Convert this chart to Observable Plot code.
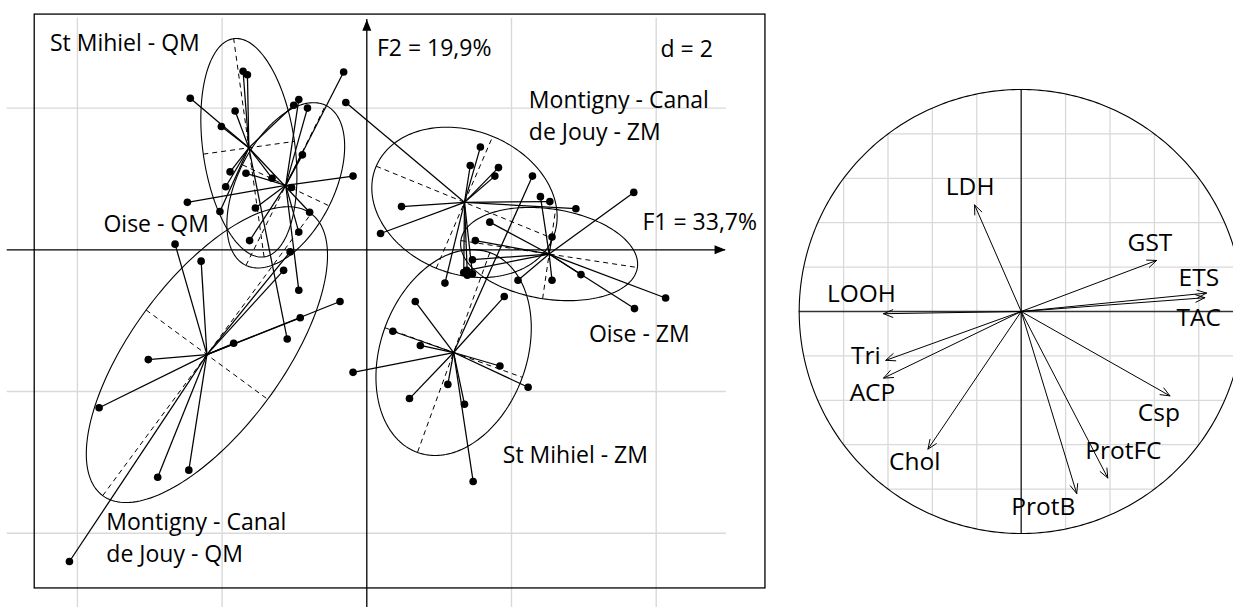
<!DOCTYPE html>
<html><head><meta charset="utf-8">
<script src="https://cdn.jsdelivr.net/npm/d3@7"></script>
<script src="https://cdn.jsdelivr.net/npm/@observablehq/plot@0.6"></script>
<style>
html,body{margin:0;padding:0;background:#fff;overflow:hidden;}
#wrap{position:relative;width:1233px;height:607px;overflow:hidden;background:#fff;}
#left{position:absolute;left:0;top:0;width:780px;height:607px;}
#right{position:absolute;left:780px;top:0;width:480px;height:607px;}
svg{overflow:visible;max-width:none !important;}
</style></head>
<body><div id="wrap"><div id="left"></div><div id="right"></div></div>
<script>
// ---------- Left panel: class scatter (F1 x F2) ----------
const groups = ["St Mihiel - QM", "Oise - QM", "Montigny - Canal de Jouy - QM",
                "Montigny - Canal de Jouy - ZM", "Oise - ZM", "St Mihiel - ZM"];
const groupLabels = ["St Mihiel - QM", "Oise - QM", "Montigny - Canal\nde Jouy - QM",
                     "Montigny - Canal\nde Jouy - ZM", "Oise - ZM", "St Mihiel - ZM"];
const labelX = [-4.38, -3.64, -3.60, 2.24, 3.07, 1.88];
const labelY = [2.95, 0.39, -4.04, 1.92, -1.15, -2.86];

const centroidX = [-1.63, -1.12, -2.21, 1.35, 2.52, 1.20];
const centroidY = [1.44, 0.91, -1.48, 0.67, -0.06, -1.45];
// ellipse half-axes (major, minor) as vectors
const axis1X = [-0.21, 0.55, 1.44, 1.22, 1.22, -0.50];
const axis1Y = [1.54, 1.13, 1.99, -0.51, -0.19, -1.41];
const axis2X = [0.63, 0.60, 0.84, 0.39, 0.09, 0.95];
const axis2Y = [0.09, -0.29, -0.63, 0.93, 0.63, -0.35];

const stMihielQM_x = [-1.71, -1.65, -2.44, -2.01, -1.82, -1.01, -1.89, -1.95, -2.03, -1.31, -1.10, -0.79];
const stMihielQM_y = [2.52, 2.47, 2.14, 1.74, 1.96, 2.04, 1.10, 0.89, 0.54, 1.01, -1.26, 0.53];
const oiseQM_x = [-0.32, -0.89, -0.94, -0.82, -0.19, -2.48, -1.67, -1.04, -1.54, -1.62, -0.94, -0.94];
const oiseQM_y = [2.51, 1.34, 2.12, 2.00, 1.04, 0.67, 1.08, 0.88, 0.59, 0.13, 0.25, -0.57];
const montignyQM_x = [-2.65, -2.29, -3.02, -3.70, -2.89, -2.46, -4.11, -1.84, -0.92, -0.37, -1.06, -1.15];
const montignyQM_y = [0.08, -0.16, -1.55, -2.23, -3.21, -3.11, -4.40, -1.32, -0.96, -0.73, -0.03, -0.29];
const montignyZM_x = [1.57, 1.43, 1.82, 1.77, 0.48, 0.19, -0.29, 2.89, 2.53, 1.46, 1.34, 1.39, 1.08];
const montignyZM_y = [1.45, 1.19, 1.16, 1.04, 0.61, 0.23, 2.08, 0.58, 0.68, -0.34, -0.32, -0.36, -0.47];
const oiseZM_x = [3.69, 2.40, 2.56, 1.70, 1.50, 1.46, 2.09, 2.56, 2.96, 3.70, 4.13, 1.38];
const oiseZM_y = [0.81, 0.75, 0.18, 0.39, 0.13, -0.14, -0.43, -0.43, -0.35, -0.83, -0.68, -0.29];
const stMihielZM_x = [0.67, 0.36, 0.74, -0.19, 0.59, 1.12, 1.35, 1.47, 1.84, 2.23, 1.90, 2.29];
const stMihielZM_y = [-0.73, -1.15, -1.35, -1.73, -2.10, -1.90, -2.18, -3.27, -1.64, -1.94, -0.66, 1.04];

const axisTexts = ["F2 = 19,9%", "d = 2", "F1 = 33,7%"];
const axisTextX = [0.14, 4.06, 3.81];
const axisTextY = [2.84, 2.83, 0.39];

const gridX = [-4, -2, 2, 4];
const gridY = [2, -2, -4];
const gridExtentX = [-4.97, 4.97];
const gridExtentY = [-5.05, 3.27];
const axisEndX = [-4.97, 4.96];
const axisEndY = [-5.05, 3.25];
const panelBoxX = [-4.59, 5.51];
const panelBoxY = [-4.78, 3.32];

// ---------- Right panel: correlation circle ----------
const variables = ["LDH", "GST", "ETS", "TAC", "LOOH", "Tri", "ACP", "Chol", "ProtB", "ProtFC", "Csp"];
const corrX = [-0.21, 0.61, 0.835, 0.827, -0.62, -0.61, -0.62, -0.42, 0.25, 0.39, 0.67];
const corrY = [0.48, 0.23, 0.083, 0.062, -0.01, -0.22, -0.30, -0.62, -0.82, -0.75, -0.38];
const varLabelX = [-0.23, 0.58, 0.80, 0.80, -0.72, -0.70, -0.67, -0.48, 0.10, 0.46, 0.62];
const varLabelY = [0.56, 0.31, 0.15, -0.03, 0.08, -0.20, -0.37, -0.68, -0.88, -0.63, -0.46];
const circleGrid = [-0.8, -0.6, -0.4, -0.2, 0.2, 0.4, 0.6, 0.8];

// ---------- build tables ----------
const px = [stMihielQM_x, oiseQM_x, montignyQM_x, montignyZM_x, oiseZM_x, stMihielZM_x];
const py = [stMihielQM_y, oiseQM_y, montignyQM_y, montignyZM_y, oiseZM_y, stMihielZM_y];
const pts = groups.flatMap((g, i) => px[i].map((x, j) => ({g, x, y: py[i][j], cx: centroidX[i], cy: centroidY[i]})));
const angles = d3.range(0, 361, 2).map(a => a * Math.PI / 180);
const ellipse = groups.flatMap((g, i) => angles.map(t => ({
  g,
  x: centroidX[i] + Math.cos(t) * axis1X[i] + Math.sin(t) * axis2X[i],
  y: centroidY[i] + Math.cos(t) * axis1Y[i] + Math.sin(t) * axis2Y[i]
})));
const ellAxes = groups.flatMap((g, i) => [
  {x1: centroidX[i] - axis1X[i], y1: centroidY[i] - axis1Y[i], x2: centroidX[i] + axis1X[i], y2: centroidY[i] + axis1Y[i]},
  {x1: centroidX[i] - axis2X[i], y1: centroidY[i] - axis2Y[i], x2: centroidX[i] + axis2X[i], y2: centroidY[i] + axis2Y[i]}
]);
const labels = groups.map((g, i) => ({t: groupLabels[i], x: labelX[i], y: labelY[i]}));
const axTxt = axisTexts.map((t, i) => ({t, x: axisTextX[i], y: axisTextY[i]}));

const triUp = {draw(ctx, size) { const r = Math.sqrt(size / Math.PI); const L = 1.85 * r, w = 0.75 * r;
  ctx.moveTo(0, 0); ctx.lineTo(-w, L); ctx.lineTo(w, L); ctx.closePath(); }};
const triRight = {draw(ctx, size) { const r = Math.sqrt(size / Math.PI); const L = 1.85 * r, w = 0.75 * r;
  ctx.moveTo(0, 0); ctx.lineTo(-L, -w); ctx.lineTo(-L, w); ctx.closePath(); }};

const font = "'Open Sans', 'DejaVu Sans', sans-serif";

const left = Plot.plot({
  width: 780, height: 607,
  marginLeft: 4.55, marginRight: 51.95, marginTop: 15.5, marginBottom: 0,
  x: {domain: [-5, 5], axis: null},
  y: {domain: [-5.049, 3.3], axis: null},
  style: {fontFamily: font, fontSize: "23px", background: "transparent", color: "black"},
  marks: [
    Plot.ruleX(gridX, {y1: gridExtentY[0], y2: gridExtentY[1], stroke: "#d9d9d9", strokeWidth: 1.4}),
    Plot.ruleY(gridY, {x1: gridExtentX[0], x2: gridExtentX[1], stroke: "#d9d9d9", strokeWidth: 1.4}),
    Plot.ruleX([0], {y1: axisEndY[0], y2: axisEndY[1], stroke: "black", strokeWidth: 1.3}),
    Plot.ruleY([0], {x1: axisEndX[0], x2: axisEndX[1], stroke: "black", strokeWidth: 1.3}),
    Plot.dot([0], {x: 0, y: axisEndY[1], symbol: triUp, r: 6, fill: "black", stroke: null}),
    Plot.dot([0], {x: axisEndX[1], y: 0, symbol: triRight, r: 6, fill: "black", stroke: null}),
    Plot.rect([0], {x1: panelBoxX[0], x2: panelBoxX[1], y1: panelBoxY[0], y2: panelBoxY[1], fill: "none", stroke: "black", strokeWidth: 1.3}),
    Plot.line(ellipse, {x: "x", y: "y", z: "g", stroke: "black", strokeWidth: 1.1, curve: "linear-closed"}),
    Plot.link(ellAxes, {x1: "x1", y1: "y1", x2: "x2", y2: "y2", stroke: "black", strokeWidth: 1, strokeDasharray: "5,4"}),
    Plot.link(pts, {x1: "cx", y1: "cy", x2: "x", y2: "y", stroke: "black", strokeWidth: 1.25}),
    Plot.dot(pts, {x: "x", y: "y", r: 3.8, fill: "black", stroke: null}),
    Plot.text(labels, {x: "x", y: "y", text: "t", textAnchor: "start", lineHeight: 1.39, fill: "black"}),
    Plot.text(axTxt, {x: "x", y: "y", text: "t", textAnchor: "start", fill: "black"})
  ]
});
document.getElementById("left").appendChild(left);

const circle = d3.range(0, 361, 1).map(a => ({x: Math.cos(a * Math.PI / 180), y: Math.sin(a * Math.PI / 180)}));
const vGrid = circleGrid.map(v => ({x1: v, x2: v, y1: -Math.sqrt(1 - v * v), y2: Math.sqrt(1 - v * v)}));
const hGrid = circleGrid.map(v => ({y1: v, y2: v, x1: -Math.sqrt(1 - v * v), x2: Math.sqrt(1 - v * v)}));
const vecs = variables.map((v, i) => ({v, x: corrX[i], y: corrY[i], lx: varLabelX[i], ly: varLabelY[i]}));

const right = Plot.plot({
  width: 480, height: 607,
  marginLeft: 18.7, marginRight: 17.3, marginTop: 89, marginBottom: 74,
  x: {domain: [-1, 1], axis: null},
  y: {domain: [-1, 1], axis: null},
  style: {fontFamily: font, fontSize: "24.5px", background: "transparent", color: "black"},
  marks: [
    Plot.link(vGrid, {x1: "x1", x2: "x2", y1: "y1", y2: "y2", stroke: "#d9d9d9", strokeWidth: 1.3}),
    Plot.link(hGrid, {x1: "x1", x2: "x2", y1: "y1", y2: "y2", stroke: "#d9d9d9", strokeWidth: 1.3}),
    Plot.ruleX([0], {y1: -1, y2: 1, stroke: "#333", strokeWidth: 1.5}),
    Plot.ruleY([0], {x1: -1, x2: 1, stroke: "#333", strokeWidth: 1.5}),
    Plot.line(circle, {x: "x", y: "y", stroke: "black", strokeWidth: 1.1}),
    Plot.arrow(vecs, {x1: 0, y1: 0, x2: "x", y2: "y", stroke: "black", strokeWidth: 1, headLength: 15, headAngle: 45}),
    Plot.text(vecs, {x: "lx", y: "ly", text: "v", fill: "black"})
  ]
});
document.getElementById("right").appendChild(right);
</script></body></html>
